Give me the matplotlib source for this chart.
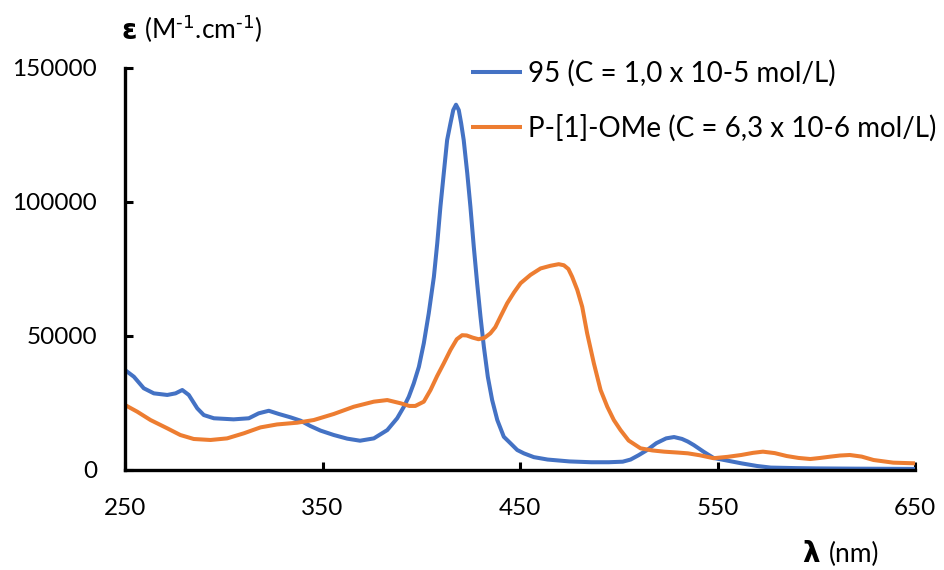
import matplotlib
matplotlib.use("Agg")
import matplotlib.pyplot as plt

plt.rcParams['font.family'] = ['Lato', 'DejaVu Sans']

# ---- data ----
blue_label = "95 (C = 1,0 x 10-5 mol/L)"
orange_label = "P-[1]-OMe (C = 6,3 x 10-6 mol/L)"

blue_x = [250, 254.5, 259.5, 264.6, 271.4, 275.6, 279, 282.3, 286.6, 289.9, 295, 305,
          312.7, 317.7, 322.8, 327.9, 333.8, 338.9, 343.9, 349, 355.7, 362.5, 369, 376,
          382.8, 387.8, 391.2, 393.7, 396.2, 398.8, 401.3, 403.8, 406.4, 408.1, 409.7,
          411.4, 413.1, 414.8, 416.2, 417.6, 419, 420.2, 421.5, 423.3, 424.9, 426.6,
          428.3, 430, 431.7, 433.7, 435.9, 438.5, 441.8, 445.2, 448.6, 452, 457, 464,
          475, 486, 495, 502, 506, 510, 514.4, 519, 524, 528, 532, 535, 538, 543, 548,
          555, 562, 570, 577, 590, 600, 620, 650]
blue_y = [37300, 34800, 30500, 28600, 28000, 28600, 29850, 28000, 23000, 20500, 19300,
          18900, 19300, 21150, 22100, 20900, 19650, 18400, 16400, 14700, 13060, 11700,
          10930, 11800, 14900, 19300, 23600, 27350, 32300, 38500, 47300, 58500, 72100,
          84600, 98200, 110700, 123100, 129400, 134300, 136300, 134300, 129400, 123100,
          110700, 98200, 83300, 69700, 57200, 46000, 34800, 26100, 18650, 12400, 9950,
          7460, 6200, 4800, 3900, 3200, 2900, 2900, 3100, 3900, 5500, 7460, 10000, 11800,
          12300, 11600, 10600, 9300, 6800, 4500, 3500, 2500, 1500, 900, 700, 600, 500, 400]

orange_x = [250, 256.2, 262.9, 271.4, 278, 284.8, 293.3, 301.7, 310.2, 318.6, 327, 337.2,
            345.6, 355.7, 365.8, 376, 382.8, 389.5, 394, 397, 401.3, 404.7, 408, 411.4,
            414.8, 418, 420.7, 423, 426, 429, 432, 435, 437.5, 440.1, 443.5, 447, 450.3,
            455.3, 460.4, 465.4, 469.6, 472.2, 474.5, 476.4, 479, 481.5, 484, 487.4, 490.8,
            494.2, 497.5, 500.9, 505, 511, 517, 523, 530, 535, 541, 548, 555, 562, 568,
            573, 579, 585, 591, 597, 602, 607, 612, 617, 623, 629, 639, 650]
orange_y = [24250, 21750, 18650, 15550, 13060, 11570, 11200, 11800, 13700, 15900, 17000,
            17650, 18650, 20900, 23600, 25500, 26100, 24900, 23900, 23900, 25500, 29850,
            35000, 39800, 44800, 48800, 50300, 50200, 49400, 48800, 49300, 51000, 53300,
            57200, 62200, 66300, 69700, 72800, 75200, 76200, 76800, 76400, 75000, 72100,
            67200, 60900, 51000, 39800, 29850, 23600, 18650, 14900, 11000, 8100, 7300, 6840,
            6500, 6220, 5500, 4400, 4900, 5600, 6400, 6840, 6300, 5220, 4500, 4100, 4500,
            4970, 5400, 5600, 5000, 3730, 2740, 2490]

x_ticks = [250, 350, 450, 550, 650]
y_ticks = [0, 50000, 100000, 150000]

BLUE = '#4472C4'
ORANGE = '#ED7D31'

W, H = 944, 570
fig = plt.figure(figsize=(W / 100, H / 100), dpi=100)
ax = fig.add_axes([125 / W, 1 - 470 / H, (915 - 125) / W, (470 - 68) / H])

ax.plot(blue_x, blue_y, color=BLUE, lw=2.9, label=blue_label,
        solid_joinstyle='round', solid_capstyle='butt')
ax.plot(orange_x, orange_y, color=ORANGE, lw=2.9, label=orange_label,
        solid_joinstyle='round', solid_capstyle='butt')

ax.set_xlim(250, 650)
ax.set_ylim(0, 150000)
ax.set_xticks(x_ticks)
ax.set_yticks(y_ticks)
ax.set_xticklabels([str(v) for v in x_ticks])
ax.set_yticklabels([str(v) for v in y_ticks])

for s in ['top', 'right']:
    ax.spines[s].set_visible(False)
for s in ['left', 'bottom']:
    ax.spines[s].set_linewidth(2.4)
    ax.spines[s].set_color('black')
    ax.spines[s].set_capstyle('projecting')

ax.tick_params(axis='both', direction='in', length=6, width=2.2, labelsize=17.5,
               colors='black')
ax.tick_params(axis='y', pad=20)
ax.tick_params(axis='x', pad=20)

# axis titles
fig.text(122 / W, 1 - 39 / H, 'ε', fontsize=20, fontweight='bold',
         family=['DejaVu Sans'], ha='left', va='baseline')
fig.text(144 / W, 1 - 39 / H, r'(M$^{\text{-1}}$.cm$^{\text{-1}}$)',
         fontsize=19, ha='left', va='baseline')
fig.text(802 / W, 1 - 562 / H, 'λ', fontsize=20, fontweight='bold',
         family=['DejaVu Sans'], ha='left', va='baseline')
fig.text(829 / W, 1 - 562 / H, '(nm)', fontsize=19, ha='left', va='baseline')

leg = fig.legend(loc='upper left', bbox_to_anchor=(471 / W, 1 - 60 / H),
                 frameon=False, fontsize=20, handlelength=1.85, handletextpad=0.22,
                 labelspacing=0.98, borderpad=0, borderaxespad=0)

fig.savefig('out.png', dpi=100)
